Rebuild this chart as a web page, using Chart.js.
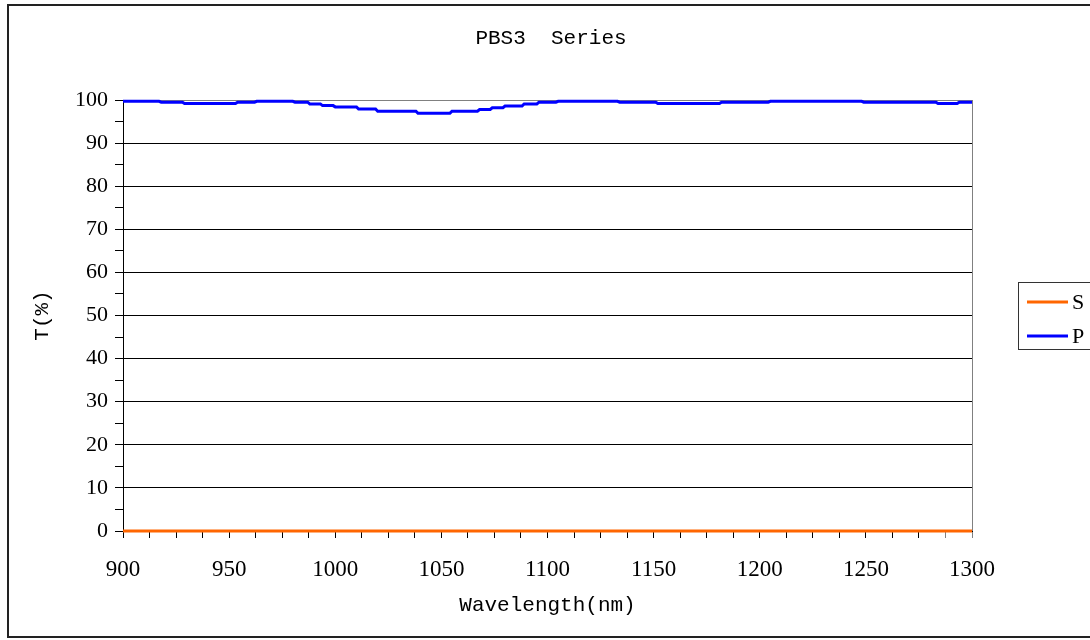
<!DOCTYPE html>
<html>
<head>
<meta charset="utf-8">
<script src="https://cdn.jsdelivr.net/npm/chart.js@4/dist/chart.umd.min.js"></script>
<style>
  html, body { margin: 0; padding: 0; background: #fff; }
  #wrap { width: 1090px; height: 640px; }
</style>
</head>
<body>
<div id="wrap"><canvas id="c" width="1090" height="640"></canvas></div>
<script>
// Text
const chartTitle = 'PBS3  Series';
const xTitle = 'Wavelength(nm)';
const yTitle = 'T(%)';
const seriesNames = ['S', 'P'];

// Axis ranges / ticks
const xMin = 900, xMax = 1300, xTickStep = 12.5, xLabelStep = 50;
const yMin = 0, yMax = 100, yTickStep = 5, yLabelStep = 10;

// S-polarisation transmission (%)
const sWave = [900, 1300];
const sT = [0, 0];

// P-polarisation transmission (%)
const pWave = [900, 917, 918, 928, 929, 953, 954, 962, 963, 980, 981, 987, 988, 993, 994, 999,
               1000, 1010, 1011, 1019, 1020, 1038, 1039, 1054, 1055, 1067, 1068, 1073, 1074, 1079,
               1080, 1088, 1089, 1095, 1096, 1104, 1105, 1133, 1134, 1151, 1152, 1181, 1182, 1204,
               1205, 1248, 1249, 1283, 1284, 1293, 1294, 1300];
const pT = [99.7, 99.7, 99.5, 99.5, 99.2, 99.2, 99.5, 99.5, 99.7, 99.7, 99.5, 99.5, 99.1, 99.1, 98.7, 98.7,
            98.4, 98.4, 97.9, 97.9, 97.4, 97.4, 96.9, 96.9, 97.4, 97.4, 97.8, 97.8, 98.2, 98.2,
            98.6, 98.6, 99.1, 99.1, 99.5, 99.5, 99.7, 99.7, 99.5, 99.5, 99.2, 99.2, 99.5, 99.5,
            99.7, 99.7, 99.5, 99.5, 99.2, 99.2, 99.5, 99.5];

const seriesColors = ['#FF6600', '#0000FF'];

const MONO = '"Liberation Mono", "DejaVu Sans Mono", monospace';
const SERIF = '"Liberation Serif", "DejaVu Serif", serif';
const GRAY = '#808080';

const toPoints = (xs, ys) => xs.map((x, i) => ({ x: x, y: ys[i] }));

// White page, outer frame, title and a boxed legend on the right
const framePlugin = {
  id: 'frame',
  beforeDraw(chart) {
    const ctx = chart.ctx;
    ctx.save();
    ctx.fillStyle = '#fff';
    ctx.fillRect(0, 0, chart.width, chart.height);
    ctx.restore();
  },
  afterDraw(chart) {
    const ctx = chart.ctx;
    ctx.save();
    ctx.strokeStyle = '#222';
    ctx.lineWidth = 2;
    ctx.strokeRect(8, 5, 1100, 632);

    // title
    ctx.fillStyle = '#000';
    ctx.font = '21px ' + MONO;
    ctx.textAlign = 'center';
    ctx.textBaseline = 'middle';
    ctx.fillText(chartTitle, 551, 38);

    // legend
    ctx.lineWidth = 1;
    ctx.strokeStyle = '#333';
    ctx.strokeRect(1018.5, 282.5, 100, 67);
    const rowsY = [302, 336];
    chart.data.datasets.forEach((ds, i) => {
      ctx.strokeStyle = ds.borderColor;
      ctx.lineWidth = 3;
      ctx.beginPath();
      ctx.moveTo(1027, rowsY[i]);
      ctx.lineTo(1068, rowsY[i]);
      ctx.stroke();
      ctx.fillStyle = '#000';
      ctx.font = '22px ' + SERIF;
      ctx.textBaseline = 'middle';
      ctx.textAlign = 'left';
      ctx.fillText(ds.label, 1072, rowsY[i] + 1);
    });
    ctx.restore();
  }
};

new Chart(document.getElementById('c'), {
  type: 'line',
  data: {
    datasets: [
      {
        label: seriesNames[0],
        data: toPoints(sWave, sT),
        borderColor: seriesColors[0],
        backgroundColor: seriesColors[0],
        borderWidth: 3,
        pointRadius: 0,
        tension: 0,
        clip: false
      },
      {
        label: seriesNames[1],
        data: toPoints(pWave, pT),
        borderColor: seriesColors[1],
        backgroundColor: seriesColors[1],
        borderWidth: 3,
        pointRadius: 0,
        tension: 0,
        clip: false
      }
    ]
  },
  options: {
    responsive: false,
    animation: false,
    devicePixelRatio: 1,
    layout: { padding: { left: 30, right: 118, top: 100, bottom: 22 } },
    plugins: {
      legend: { display: false },
      tooltip: { enabled: false },
      title: { display: false }
    },
    scales: {
      x: {
        type: 'linear',
        min: xMin,
        max: xMax,
        afterFit(s) { s.height = 87; },
        border: { color: '#000', width: 1 },
        grid: {
          drawOnChartArea: true,
          tickLength: 7,
          color: c => (c.tick && c.tick.value === xMax) ? GRAY : 'rgba(0,0,0,0)',
          tickColor: c => (c.tick && c.tick.value >= xMax - xTickStep) ? GRAY : '#000'
        },
        ticks: {
          stepSize: xTickStep,
          autoSkip: false,
          maxRotation: 0,
          padding: 18,
          color: '#000',
          font: { family: SERIF, size: 23 },
          callback: v => (v % xLabelStep === 0 ? String(v) : '')
        },
        title: {
          display: true,
          text: xTitle,
          color: '#000',
          padding: 0,
          font: { family: MONO, size: 21, lineHeight: 1.2 }
        }
      },
      y: {
        min: yMin,
        max: yMax,
        afterFit(s) { s.width = 93; },
        border: { color: '#000', width: 1 },
        grid: {
          tickLength: 8,
          color: c => {
            const v = c.tick ? c.tick.value : 0;
            if (v === yMax) return GRAY;
            return v % yLabelStep === 0 ? '#000' : 'rgba(0,0,0,0)';
          },
          tickColor: '#000'
        },
        ticks: {
          stepSize: yTickStep,
          autoSkip: false,
          padding: 7,
          color: '#000',
          font: { family: SERIF, size: 22 },
          callback: v => (v % yLabelStep === 0 ? String(v) : '')
        },
        title: {
          display: true,
          text: yTitle,
          color: '#000',
          padding: 0,
          font: { family: MONO, size: 21, lineHeight: 1.2 }
        }
      }
    }
  },
  plugins: [framePlugin]
});
</script>
</body>
</html>
